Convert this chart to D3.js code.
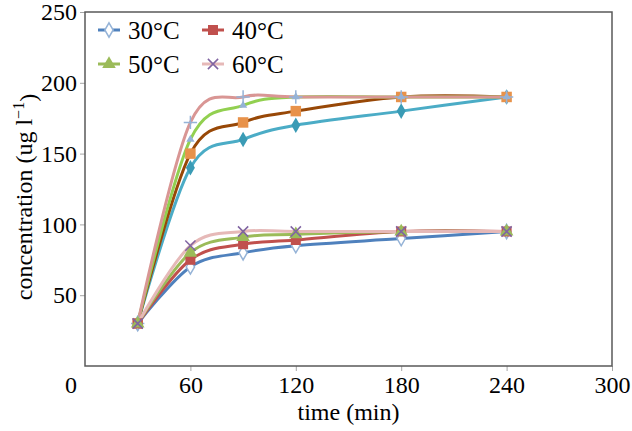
<!DOCTYPE html>
<meta charset="utf-8">
<style>
body { margin: 0; background: #fff; }
text { font-family: "Liberation Serif", "Times New Roman", serif; fill: #000; }
.frame { fill: none; stroke: #595959; stroke-width: 1.5; }
.tick line { stroke: #a6a6a6; }
.line { fill: none; stroke-width: 3; }
</style>
<svg width="632" height="431"></svg>
<script src="https://d3js.org/d3.v7.min.js"></script>
<script>

// sampling times (min)
var times = [30, 60, 90, 120, 180, 240];

// upper group of curves
var upper30 = [30, 140, 160, 170, 180, 190];
var upper40 = [30, 150, 172, 180, 190, 190];
var upper50 = [30, 160, 184, 190, 190, 190];
var upper60 = [30, 172, 190, 190, 190, 190];

// lower group of curves
var lower30 = [30, 70, 80, 85, 90, 95];
var lower40 = [30, 75, 86, 89, 95, 95];
var lower50 = [30, 80, 91, 93, 95, 95];
var lower60 = [30, 85, 95, 95, 95, 95];

var legendLabels = ["30°C", "40°C", "50°C", "60°C"];
var xTicks = [60, 120, 180, 240, 300];
var yTicks = [50, 100, 150, 200, 250];

var svg = d3.select("svg"),
    margin = {top: 12, right: 20, bottom: 65, left: 85},
    width = +svg.attr("width") - margin.left - margin.right,
    height = +svg.attr("height") - margin.top - margin.bottom,
    g = svg.append("g").attr("transform", "translate(" + margin.left + "," + margin.top + ")");

var x = d3.scaleLinear().domain([0, 300]).range([0, width]);
var y = d3.scaleLinear().domain([0, 250]).range([height, 0]);

var series = [
    {values: upper30, line: "#4bacc6", mark: "#3a9bb5", fill: "#3a9bb5", sym: d3.symbolDiamond, size: 70},
    {values: upper40, line: "#984807", mark: "#e8924a", fill: "#e8924a", sym: d3.symbolSquare, size: 110},
    {values: upper50, line: "#92d050", mark: "#95b3d7", fill: "#95b3d7", sym: d3.symbolTriangle, size: 30},
    {values: upper60, line: "#d99694", mark: "#95b3d7", fill: "none", sym: d3.symbolPlus, size: 60, stroke: true},
    {values: lower30, line: "#4f81bd", mark: "#95b3d7", fill: "#fff", sym: d3.symbolDiamond, size: 60, stroke: true},
    {values: lower40, line: "#c0504d", mark: "#c0504d", fill: "#c0504d", sym: d3.symbolSquare, size: 100},
    {values: lower50, line: "#9bbb59", mark: "#9bbb59", fill: "#9bbb59", sym: d3.symbolTriangle, size: 80},
    {values: lower60, line: "#e6b9b8", mark: "#8064a2", fill: "none", sym: d3.symbolX, size: 70, stroke: true}
];

// axes
var xAxis = g.append("g")
    .attr("class", "axis")
    .attr("transform", "translate(0," + height + ")")
    .call(d3.axisBottom(x).tickValues(xTicks).tickSize(5).tickPadding(5));
xAxis.select(".domain").remove();
xAxis.selectAll("text").attr("font-size", "24px").attr("dy", "0.71em");

var yAxis = g.append("g")
    .attr("class", "axis")
    .call(d3.axisLeft(y).tickValues(yTicks).tickSize(5).tickPadding(3));
yAxis.select(".domain").remove();
yAxis.selectAll("text").attr("font-size", "24px");

// shared corner zero
g.append("text")
    .attr("x", x(0) - 8)
    .attr("y", y(0) + 10)
    .attr("dy", "0.71em")
    .attr("text-anchor", "end")
    .attr("font-size", "24px")
    .text("0");

g.append("rect")
    .attr("class", "frame")
    .attr("width", width)
    .attr("height", height);

var line = d3.line()
    .curve(d3.curveCatmullRom.alpha(0))
    .x(function(d, i) { return x(times[i]); })
    .y(function(d) { return y(d); });

series.forEach(function(s) {
    g.append("path")
        .attr("class", "line")
        .attr("stroke", s.line)
        .attr("d", line(s.values));
});

series.forEach(function(s) {
    g.selectAll(null)
        .data(s.values)
        .enter()
        .append("path")
        .attr("d", d3.symbol().type(s.sym).size(s.size))
        .attr("transform", function(d, i) { return "translate(" + x(times[i]) + "," + y(d) + ")"; })
        .attr("fill", s.fill)
        .attr("stroke", s.stroke ? s.mark : "none")
        .attr("stroke-width", 1.5);
});

// legend uses the lower group styles
var legend = g.selectAll(".legend")
    .data(series.slice(4))
    .enter()
    .append("g")
    .attr("class", "legend")
    .attr("transform", function(d, i) {
        return "translate(" + (13 + (i % 2) * 104) + "," + (18 + Math.floor(i / 2) * 34) + ")";
    });

legend.append("line")
    .attr("x1", 0).attr("x2", 22)
    .attr("stroke", function(d) { return d.line; })
    .attr("stroke-width", 3);

legend.append("path")
    .attr("d", function(d) { return d3.symbol().type(d.sym).size(d.size)(); })
    .attr("transform", "translate(11,0)")
    .attr("fill", function(d) { return d.fill; })
    .attr("stroke", function(d) { return d.stroke ? d.mark : "none"; })
    .attr("stroke-width", 1.5);

legend.append("text")
    .attr("x", 30)
    .attr("dy", "0.35em")
    .attr("font-size", "25px")
    .text(function(d, i) { return legendLabels[i]; });

// axis titles
svg.append("text")
    .attr("x", margin.left + width / 2)
    .attr("y", 420)
    .attr("text-anchor", "middle")
    .attr("font-size", "24px")
    .text("time (min)");

var yTitle = svg.append("text")
    .attr("transform", "translate(32," + (margin.top + height / 2 + 8) + ") rotate(-90)")
    .attr("text-anchor", "middle")
    .attr("font-size", "24px");
yTitle.append("tspan").text("concentration (ug l");
yTitle.append("tspan").attr("dy", "-0.5em").attr("font-size", "16px").text("−1");
yTitle.append("tspan").attr("dy", "0.5em").text(")");

</script>
